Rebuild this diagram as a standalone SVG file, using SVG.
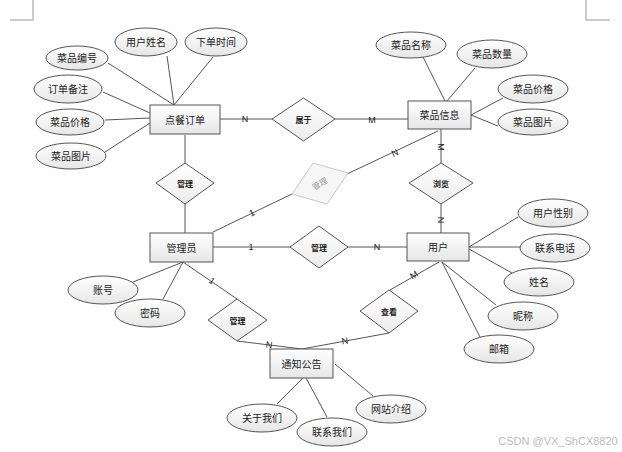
<svg xmlns="http://www.w3.org/2000/svg" width="622" height="452" viewBox="0 0 622 452">
<defs>
<linearGradient id="g" x1="0" y1="0" x2="0" y2="1"><stop offset="0" stop-color="#ffffff"/><stop offset="1" stop-color="#e6e6e6"/></linearGradient>
<linearGradient id="gd" x1="0" y1="0" x2="0" y2="1"><stop offset="0" stop-color="#ffffff"/><stop offset="1" stop-color="#ececec"/></linearGradient>
<style>
.e{fill:url(#g);stroke:#555;stroke-width:1}
.a{fill:url(#g);stroke:#555;stroke-width:1}
.d{fill:url(#gd);stroke:#555;stroke-width:1}
.c{stroke:#555;stroke-width:1;fill:none}
text{font-family:"Liberation Sans","Noto Sans CJK SC",sans-serif;fill:#222;text-anchor:middle;dominant-baseline:central}
.te{font-size:10px}
.ta{font-size:10px}
.td{font-size:8px;font-weight:bold}
.tl{font-size:9px}
.mk{stroke:#bbb;stroke-width:1.5;fill:none}
</style>
</defs>
<path class="mk" d="M33 0V20H10M586 0V20H610"/>
<g id="connectors">
<path class="c" d="M220 119H272M335 119H408"/>
<path class="c" d="M441 129V163M441 204V233"/>
<path class="c" d="M185 135V163M185 204V233"/>
<path class="c" d="M213 232L292 194"/>
<path class="c" d="M347 174L438 131"/>
<path class="c" d="M213 247H290M348 247H407"/>
<path class="c" d="M439 262L390 290M389 333L302 349"/>
<path class="c" d="M183 262L237 299M237 341L302 349"/>
<path class="c" d="M108 63L174 105M167 56L174 105M213 57L174 105M103 92L150 113M105 120L150 118M105 152L150 123"/>
<path class="c" d="M423 57L445 101M475 68L447 101M503 98L471 115M498 126L471 115"/>
<path class="c" d="M133 282L183 262M163 299L183 262"/>
<path class="c" d="M469 247L518 217M469 247H520M469 249L512 273M442 262L496 305M442 262L480 337"/>
<path class="c" d="M303 378L277 404M306 378L327 417M335 364L373 396"/>
<text class="tl" x="245" y="119">N</text>
<text class="tl" x="372" y="120">M</text>
<text class="tl" transform="translate(441 147) rotate(90)">M</text>
<text class="tl" transform="translate(441 220) rotate(90)">N</text>
<text class="tl" transform="translate(252 213) rotate(-26)">1</text>
<text class="tl" transform="translate(395 153) rotate(-25)">N</text>
<text class="tl" x="251" y="247">1</text>
<text class="tl" x="377" y="247">N</text>
<text class="tl" transform="translate(414 275) rotate(-30)">M</text>
<text class="tl" transform="translate(345 341) rotate(-10)">N</text>
<text class="tl" transform="translate(212 281) rotate(34)">1</text>
<text class="tl" transform="translate(269 345) rotate(7)">N</text>
</g>
<g id="order"><rect class="e" x="150" y="105" width="70" height="29"/><text class="te" x="185" y="120">点餐订单</text></g>
<g id="dish"><rect class="e" x="408" y="101" width="63" height="28"/><text class="te" x="439.5" y="115.5">菜品信息</text></g>
<g id="admin"><rect class="e" x="150" y="233" width="63" height="29"/><text class="te" x="181.5" y="248">管理员</text></g>
<g id="user"><rect class="e" x="407" y="233" width="62" height="28"/><text class="te" x="438" y="247.5">用户</text></g>
<g id="notice"><rect class="e" x="270" y="349" width="63" height="29"/><text class="te" x="301.5" y="364">通知公告</text></g>
<g id="r-belong"><polygon class="d" points="272,119 303.5,98 335,119 303.5,141"/><text class="td" x="303.5" y="120">属于</text></g>
<g id="r-manage1"><polygon class="d" points="156,183 185,163 214,183 185,204"/><text class="td" x="185" y="184">管理</text></g>
<g id="r-manage2"><polygon points="292,194 313,163 348,173 327,204" fill="#f6f6f6" stroke="#c8c8c8" stroke-width="1"/><text class="td" transform="translate(320 184) rotate(-30)" style="fill:#999;font-weight:normal">管理</text></g>
<g id="r-manage3"><polygon class="d" points="290,247 319,226 348,247 319,268" /><text class="td" x="319" y="248">管理</text></g>
<g id="r-browse"><polygon class="d" points="409,183 441,163 473,183 441,204"/><text class="td" x="441" y="184">浏览</text></g>
<g id="r-view"><polygon class="d" points="360,311 389,290 418,311 389,333"/><text class="td" x="389" y="312">查看</text></g>
<g id="r-manage4"><polygon class="d" points="208,320 237,299 267,320 237,341"/><text class="td" x="237.5" y="321">管理</text></g>
<g id="a-o1"><ellipse class="a" cx="77" cy="58" rx="31" ry="12"/><text class="ta" x="77" y="58">菜品编号</text></g>
<g id="a-o2"><ellipse class="a" cx="146" cy="42" rx="31" ry="14"/><text class="ta" x="146" y="42">用户姓名</text></g>
<g id="a-o3"><ellipse class="a" cx="216" cy="42" rx="31" ry="14"/><text class="ta" x="216" y="42">下单时间</text></g>
<g id="a-o4"><ellipse class="a" cx="68" cy="89" rx="34" ry="14"/><text class="ta" x="68" y="89">订单备注</text></g>
<g id="a-o5"><ellipse class="a" cx="70" cy="122" rx="34" ry="13"/><text class="ta" x="70" y="122">菜品价格</text></g>
<g id="a-o6"><ellipse class="a" cx="71" cy="156" rx="35" ry="13"/><text class="ta" x="71" y="156">菜品图片</text></g>
<g id="a-d1"><ellipse class="a" cx="411" cy="45" rx="35" ry="13"/><text class="ta" x="411" y="45">菜品名称</text></g>
<g id="a-d2"><ellipse class="a" cx="492" cy="54" rx="35" ry="14"/><text class="ta" x="492" y="54">菜品数量</text></g>
<g id="a-d3"><ellipse class="a" cx="533" cy="89" rx="35" ry="14"/><text class="ta" x="533" y="89">菜品价格</text></g>
<g id="a-d4"><ellipse class="a" cx="533" cy="122" rx="35" ry="13"/><text class="ta" x="533" y="122">菜品图片</text></g>
<g id="a-a1"><ellipse class="a" cx="103" cy="290" rx="35" ry="14"/><text class="ta" x="103" y="290">账号</text></g>
<g id="a-a2"><ellipse class="a" cx="150" cy="313" rx="35" ry="14"/><text class="ta" x="150" y="313">密码</text></g>
<g id="a-u1"><ellipse class="a" cx="553" cy="213" rx="35" ry="14"/><text class="ta" x="553" y="213">用户性别</text></g>
<g id="a-u2"><ellipse class="a" cx="555" cy="248" rx="35" ry="14"/><text class="ta" x="555" y="248">联系电话</text></g>
<g id="a-u3"><ellipse class="a" cx="539" cy="282" rx="35" ry="14"/><text class="ta" x="539" y="282">姓名</text></g>
<g id="a-u4"><ellipse class="a" cx="523" cy="316" rx="35" ry="14"/><text class="ta" x="523" y="316">昵称</text></g>
<g id="a-u5"><ellipse class="a" cx="499" cy="349" rx="35" ry="14"/><text class="ta" x="499" y="349">邮箱</text></g>
<g id="a-n1"><ellipse class="a" cx="262" cy="418" rx="35" ry="14"/><text class="ta" x="262" y="418">关于我们</text></g>
<g id="a-n2"><ellipse class="a" cx="332" cy="432" rx="35" ry="14"/><text class="ta" x="332" y="432">联系我们</text></g>
<g id="a-n3"><ellipse class="a" cx="391" cy="409" rx="35" ry="14"/><text class="ta" x="391" y="409">网站介绍</text></g>
<text x="558" y="441" style="font-size:11px;fill:#bbb">CSDN @VX_ShCX8820</text>
</svg>
